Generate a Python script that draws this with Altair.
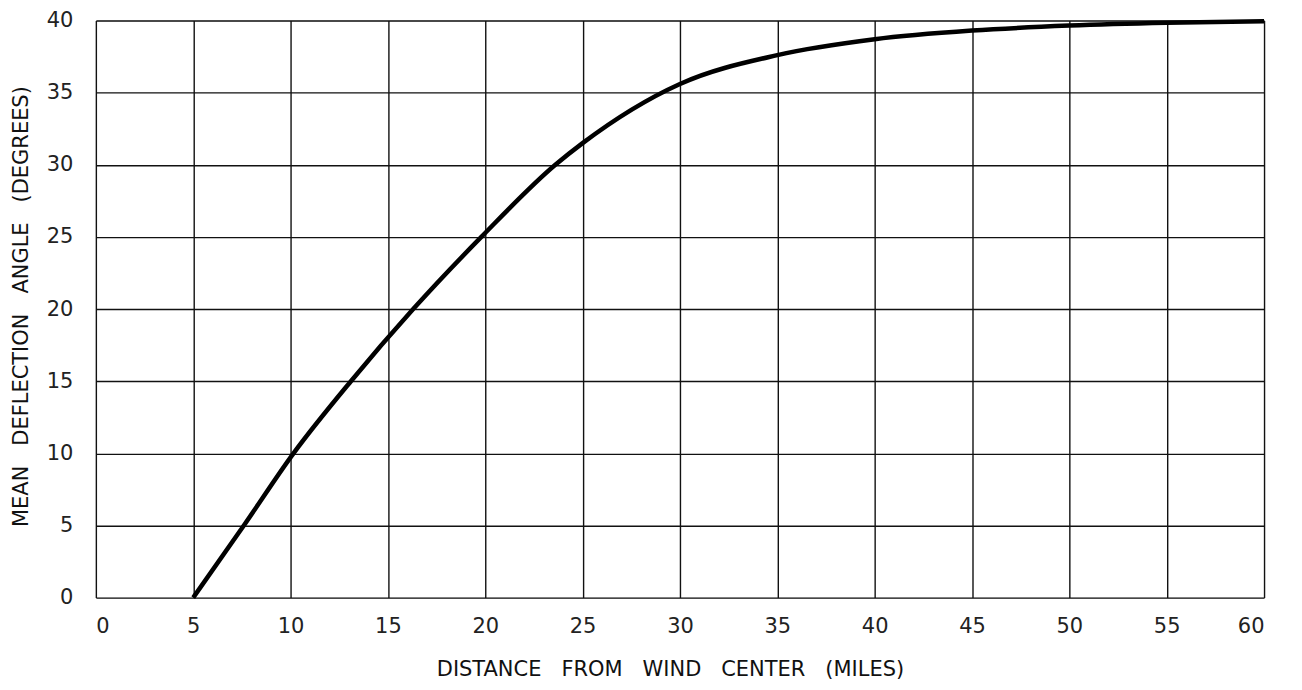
import altair as alt
import pandas as pd

# Curve
distance = [5, 7.6, 10.15, 13.1, 16.3, 19.8, 23.6, 25, 30, 35, 40, 45, 50, 55, 60]
angle = [0, 5, 10, 15, 20, 25, 30, 31.5, 35.6, 37.6, 38.7, 39.3, 39.65, 39.85, 39.95]

x_ticks = list(range(0, 61, 5))
y_ticks = list(range(0, 41, 5))

G = "\u00a0\u00a0\u00a0"
x_title = f"DISTANCE{G}FROM{G}WIND{G}CENTER{G}(MILES)"
y_title = f"MEAN{G}DEFLECTION{G}ANGLE{G}(DEGREES)"

df = pd.DataFrame({"distance": distance, "angle": angle})

FONT = "DejaVu Sans"

chart = (
    alt.Chart(df)
    .mark_line(color="black", strokeWidth=4.5, interpolate="monotone")
    .encode(
        x=alt.X(
            "distance:Q",
            scale=alt.Scale(domain=[0, 60], nice=False, zero=False),
            axis=alt.Axis(
                values=x_ticks,
                title=x_title,
                grid=True,
                gridColor="#111",
                gridWidth=1.4,
                domain=False,
                ticks=False,
                labelPadding=18,
                labelFont=FONT,
                labelFontSize=21,
                labelColor="#222",
                labelFontWeight="normal",
                titleFont=FONT,
                titleFontSize=21,
                titleFontWeight="normal",
                titleColor="#111",
                titleX=575,
                titleY=72,
                titleAlign="center",
                titleBaseline="middle",
            ),
        ),
        y=alt.Y(
            "angle:Q",
            scale=alt.Scale(domain=[0, 40], nice=False, zero=False),
            axis=alt.Axis(
                values=y_ticks,
                title=y_title,
                grid=True,
                gridColor="#111",
                gridWidth=1.4,
                domain=False,
                ticks=False,
                labelPadding=23,
                labelFont=FONT,
                labelFontSize=21,
                labelColor="#222",
                labelFontWeight="normal",
                titleFont=FONT,
                titleFontSize=21,
                titleFontWeight="normal",
                titleColor="#111",
                titleX=-74,
                titleY=286,
                titleAngle=270,
                titleAlign="center",
                titleBaseline="middle",
            ),
        ),
    )
    .properties(
        width=1170,
        height=578,
        autosize=alt.AutoSizeParams(type="none"),
        padding={"left": 88, "top": 12, "right": 30, "bottom": 90},
    )
    .configure_view(stroke="#111", strokeWidth=1.6)
    .configure(background="white")
)

chart.save("out.html", embed_options={"renderer": "svg", "actions": False})
